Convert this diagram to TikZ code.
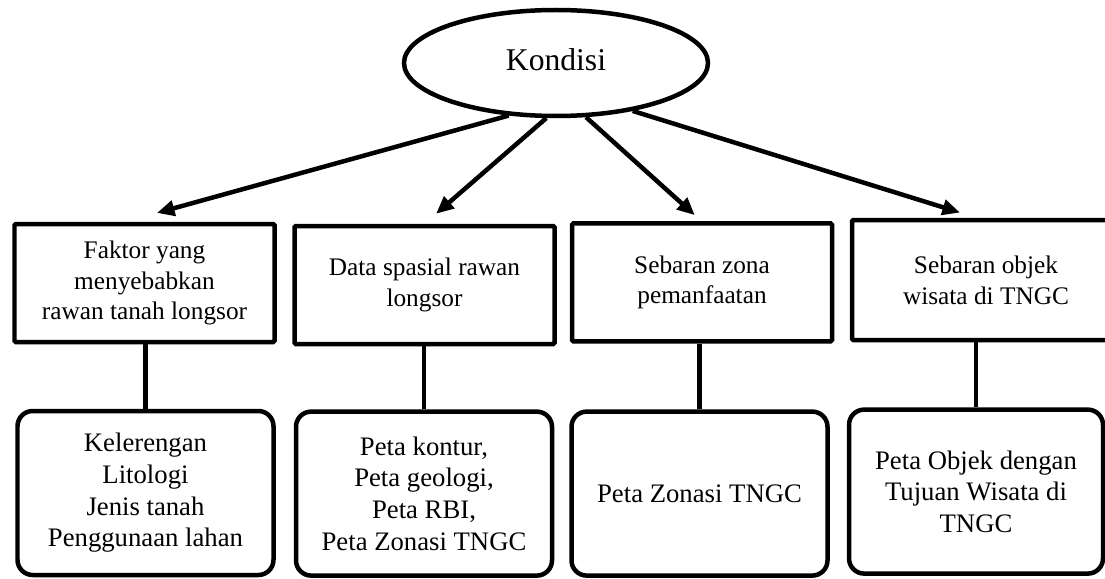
\documentclass[tikz,border=0pt]{standalone}
\usepackage{fontspec}
\setmainfont{Liberation Serif}
\usetikzlibrary{shapes.geometric,arrows.meta}

\begin{document}
\begin{tikzpicture}[>={Triangle[length=4.4mm,width=3.8mm]}, line width=3.2pt]
        \tikzset{topbox/.style={draw, rounded corners=1pt, minimum width=6.5cm, minimum height=2.95cm, inner sep=2pt, align=center, font=\fontsize{18}{22}\selectfont},
                 subbox/.style={draw, rounded corners=0.38cm, minimum width=6.4cm, minimum height=4.1cm, inner sep=2pt, align=center, font=\fontsize{19}{22.5}\selectfont}}
        \useasboundingbox (0,0) rectangle (27.625,14.45);
        \clip (0,0) rectangle (27.625,14.45);
        \node[draw, ellipse, minimum width=7.6cm, minimum height=2.65cm, inner sep=0pt, font=\fontsize{22.5}{26}\selectfont] (kondisi) at (13.9,12.875) {\raisebox{0.15cm}{Kondisi}};
        \node[topbox] (faktor) at (3.6125,7.375) {Faktor yang\\menyebabkan\\rawan tanah longsor};
        \node[topbox] (spasial) at (10.6125,7.325) {Data spasial rawan\\longsor};
        \node[topbox] (zona) at (17.55,7.39) {Sebaran zona\\pemanfaatan};
        \node[topbox, minimum width=6.7cm, minimum height=3.0cm] (objek) at (24.65,7.45) {Sebaran objek\\wisata di TNGC};
        \node[subbox] (faktorisi) at (3.6375,2.125) {Kelerengan\\Litologi\\Jenis tanah\\Penggunaan lahan};
        \node[subbox] (spasialisi) at (10.6,2.11) {Peta kontur,\\Peta geologi,\\Peta RBI,\\Peta Zonasi TNGC};
        \node[subbox] (zonaisi) at (17.4875,2.11) {Peta Zonasi TNGC};
        \node[subbox, minimum width=6.35cm] (objekisi) at (24.4,2.16) {Peta Objek dengan\\Tujuan Wisata di\\TNGC};
        \draw[->] (kondisi.228) -- ([xshift=0.31cm,yshift=0.22cm]faktor.north);
        \draw[->] (kondisi.260) -- ([xshift=0.29cm,yshift=0.25cm]spasial.north);
        \draw[->] (kondisi.299) -- ([xshift=-0.18cm,yshift=0.15cm]zona.north);
        \draw[->] (kondisi.328) -- ([xshift=-0.65cm,yshift=0.13cm]objek.north);
        \draw (faktorisi.north) -- (faktorisi.north |- faktor.south);
        \draw (spasialisi.north) -- (spasialisi.north |- spasial.south);
        \draw (zonaisi.north) -- (zonaisi.north |- zona.south);
        \draw (objekisi.north) -- (objekisi.north |- objek.south);
    \end{tikzpicture}
\end{document}
